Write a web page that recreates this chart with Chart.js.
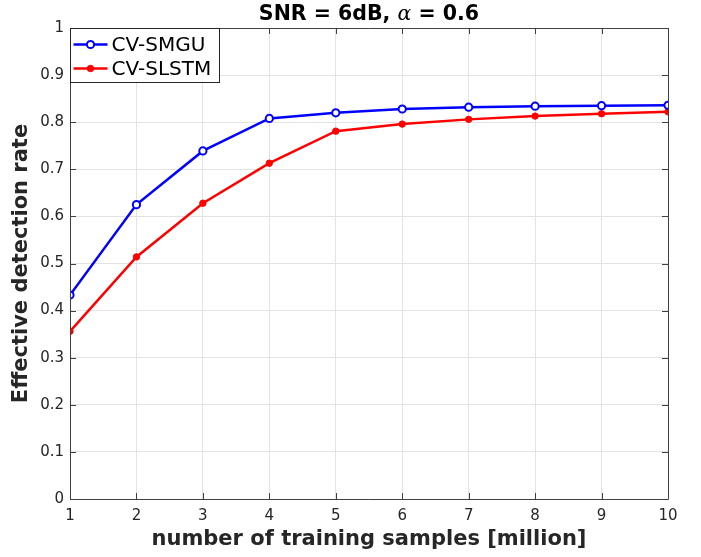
<!DOCTYPE html>
<html>
<head>
<meta charset="utf-8">
<script src="https://cdn.jsdelivr.net/npm/chart.js@4.4.1/dist/chart.umd.min.js"></script>
<style>
html,body{margin:0;padding:0;background:#fff;}
#wrap{width:701px;height:557px;}
</style>
</head>
<body>
<div id="wrap"><canvas id="c" width="701" height="557"></canvas></div>
<script>
const samples = [1, 2, 3, 4, 5, 6, 7, 8, 9, 10];
const smgu = [0.433, 0.625, 0.739, 0.808, 0.820, 0.828, 0.832, 0.834, 0.835, 0.836];
const slstm = [0.356, 0.514, 0.628, 0.713, 0.781, 0.796, 0.806, 0.813, 0.818, 0.822];
const seriesNames = ['CV-SMGU', 'CV-SLSTM'];
const titleParts = ['SNR = 6dB, ', '\u03B1', ' = 0.6'];
const xTitle = 'number of training samples [million]';
const yTitle = 'Effective detection rate';

const FONT = '"DejaVu Sans", sans-serif';
const INK = '#262626';
const AXIS = '#404040';

const decor = {
  id: 'decor',
  afterDraw(chart) {
    const ctx = chart.ctx;
    const a = chart.chartArea;
    const xs = chart.scales.x, ys = chart.scales.y;
    ctx.save();
    // box
    ctx.strokeStyle = AXIS;
    ctx.lineWidth = 1;
    ctx.beginPath();
    ctx.rect(Math.round(a.left) + 0.5, Math.round(a.top) + 0.5, Math.round(a.right - a.left), Math.round(a.bottom - a.top));
    ctx.stroke();
    // inward ticks
    const tl = 6;
    ctx.beginPath();
    samples.forEach(v => {
      const px = Math.round(xs.getPixelForValue(v)) + 0.5;
      ctx.moveTo(px, a.bottom); ctx.lineTo(px, a.bottom - tl);
      ctx.moveTo(px, a.top); ctx.lineTo(px, a.top + tl);
    });
    for (let i = 0; i <= 10; i++) {
      const py = Math.round(ys.getPixelForValue(i / 10)) + 0.5;
      ctx.moveTo(a.left, py); ctx.lineTo(a.left + tl, py);
      ctx.moveTo(a.right, py); ctx.lineTo(a.right - tl, py);
    }
    ctx.stroke();

    // title
    const cx = (a.left + a.right) / 2;
    const fB = 'bold 20.5px ' + FONT;
    const fA = 'italic 20.5px "DejaVu Serif", serif';
    ctx.fillStyle = '#000';
    ctx.textBaseline = 'alphabetic';
    ctx.font = fB; const w0 = ctx.measureText(titleParts[0]).width;
    ctx.font = fA; const w1 = ctx.measureText(titleParts[1]).width;
    ctx.font = fB; const w2 = ctx.measureText(titleParts[2]).width;
    let tx = cx - (w0 + w1 + w2) / 2;
    const ty = 20;
    ctx.textAlign = 'left';
    ctx.font = fB; ctx.fillText(titleParts[0], tx, ty); tx += w0;
    ctx.font = fA; ctx.fillText(titleParts[1], tx, ty); tx += w1;
    ctx.font = fB; ctx.fillText(titleParts[2], tx, ty);

    // axis titles
    ctx.fillStyle = INK;
    ctx.font = 'bold 21px ' + FONT;
    ctx.textAlign = 'center';
    ctx.textBaseline = 'middle';
    ctx.fillText(xTitle, cx, 540);
    ctx.save();
    ctx.translate(22, (a.top + a.bottom) / 2);
    ctx.rotate(-Math.PI / 2);
    ctx.fillText(yTitle, 0, 0);
    ctx.restore();

    // legend
    const lx = Math.round(a.left) + 0.5, ly = Math.round(a.top) + 0.5;
    const lw = 149, lh = 54;
    ctx.fillStyle = '#fff';
    ctx.fillRect(lx, ly, lw, lh);
    ctx.strokeStyle = INK;
    ctx.lineWidth = 1;
    ctx.strokeRect(lx, ly, lw, lh);
    ctx.font = '20px ' + FONT;
    ctx.textAlign = 'left';
    ctx.textBaseline = 'middle';
    chart.data.datasets.forEach((ds, i) => {
      const rowY = ly + 16 + i * 24;
      ctx.strokeStyle = ds.borderColor;
      ctx.lineWidth = ds.borderWidth;
      ctx.beginPath();
      ctx.moveTo(lx + 3, rowY); ctx.lineTo(lx + 37, rowY);
      ctx.stroke();
      ctx.beginPath();
      ctx.arc(lx + 20, rowY, ds.pointRadius, 0, Math.PI * 2);
      ctx.fillStyle = ds.pointBackgroundColor;
      ctx.fill();
      ctx.lineWidth = ds.pointBorderWidth;
      ctx.strokeStyle = ds.pointBorderColor;
      ctx.stroke();
      ctx.fillStyle = '#000';
      ctx.fillText(ds.label, lx + 41, rowY + 1);
    });
    ctx.restore();
  }
};

new Chart(document.getElementById('c'), {
  type: 'line',
  data: {
    datasets: [
      {
        label: seriesNames[0],
        data: samples.map((x, i) => ({x, y: smgu[i]})),
        borderColor: '#0000ff',
        borderWidth: 2.5,
        pointRadius: 3.6,
        pointBorderWidth: 2,
        pointBorderColor: '#0000ff',
        pointBackgroundColor: '#ffffff',
        fill: false,
        tension: 0
      },
      {
        label: seriesNames[1],
        data: samples.map((x, i) => ({x, y: slstm[i]})),
        borderColor: '#ff0000',
        borderWidth: 2.5,
        pointRadius: 3.2,
        pointBorderWidth: 1,
        pointBorderColor: '#ff0000',
        pointBackgroundColor: '#ff0000',
        fill: false,
        tension: 0
      }
    ]
  },
  options: {
    responsive: false,
    animation: false,
    events: [],
    layout: {padding: {top: 28, right: 33, left: 0, bottom: 0}},
    plugins: {legend: {display: false}, title: {display: false}, tooltip: {enabled: false}},
    scales: {
      x: {
        type: 'linear', min: 1, max: 10,
        afterFit(s) { s.height = 58; },
        grid: {color: '#e3e3e3', drawTicks: false},
        border: {display: false},
        ticks: {stepSize: 1, color: INK, font: {family: FONT, size: 15}, padding: 8, maxRotation: 0,
                callback: v => String(v)}
      },
      y: {
        type: 'linear', min: 0, max: 1,
        afterFit(s) { s.width = 70; },
        grid: {color: '#e3e3e3', drawTicks: false},
        border: {display: false},
        ticks: {stepSize: 0.1, color: INK, font: {family: FONT, size: 15}, padding: 6,
                callback: v => String(Math.round(v * 10) / 10)}
      }
    }
  },
  plugins: [decor]
});
</script>
</body>
</html>
